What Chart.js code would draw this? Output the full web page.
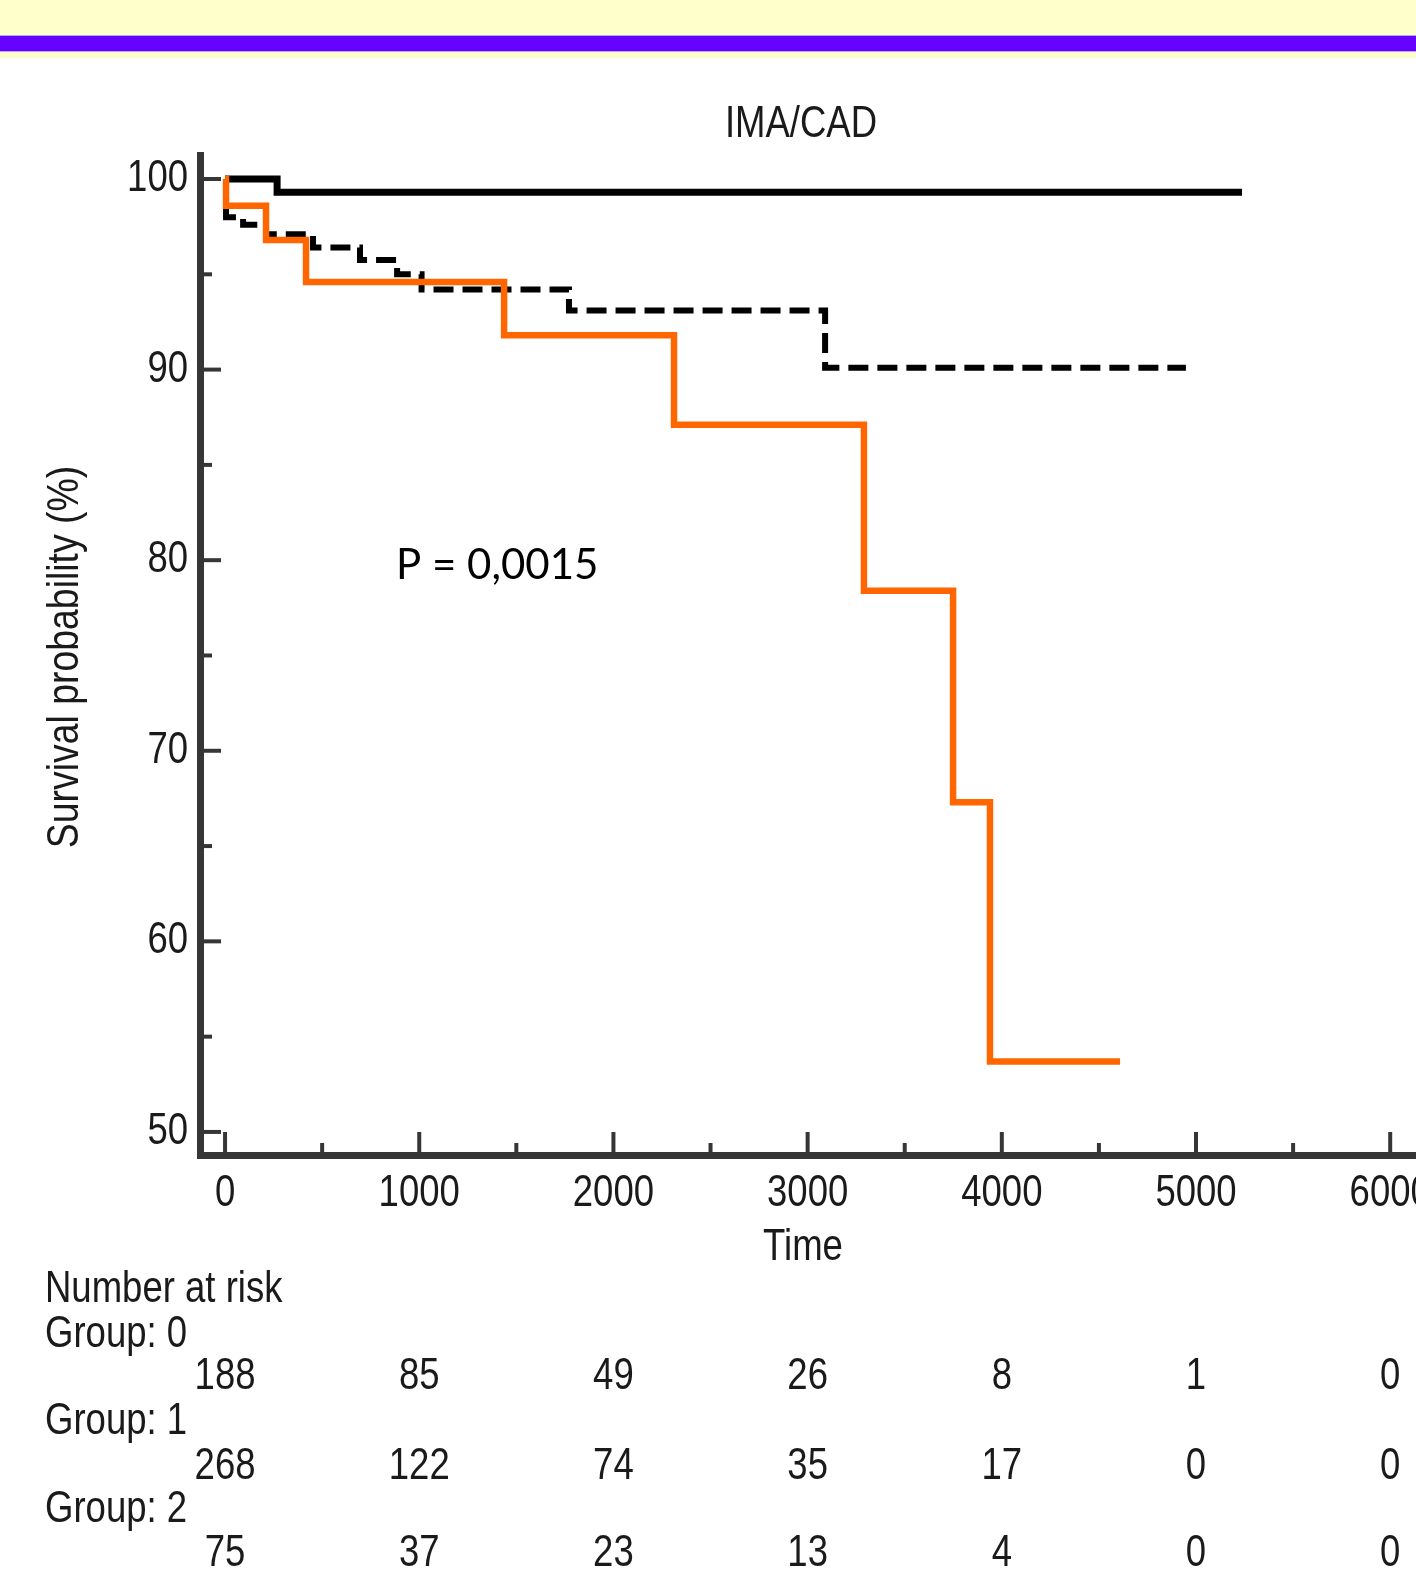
<!DOCTYPE html>
<html><head><meta charset="utf-8">
<script src="https://cdn.jsdelivr.net/npm/chart.js@4/dist/chart.umd.min.js"></script>
<style>
html,body{margin:0;padding:0;background:#fff;width:1416px;height:1573px;overflow:hidden;}
#banner{position:absolute;left:0;top:0;width:1416px;height:58px;background:#FFFFCC;}
#bar{position:absolute;left:0;top:35px;width:1416px;height:17px;background:#6600FF;border-top:1px solid #b8a8e8;border-bottom:1px solid #b8a8e8;box-sizing:border-box;}
#wrap{position:absolute;left:0;top:60px;width:1500px;height:1513px;}
</style></head><body>
<div id="banner"><div id="bar"></div></div>
<div id="wrap"><canvas id="c" width="1500" height="1513"></canvas></div>
<script>
// ---------- data ----------
const chartTitle = 'IMA/CAD';
const xAxisTitle = 'Time';
const yAxisTitle = 'Survival probability (%)';
const pValueText = 'P = 0,0015';

const xTickValues = [0,500,1000,1500,2000,2500,3000,3500,4000,4500,5000,5500,6000,6500];
const yTickValues = [50,55,60,65,70,75,80,85,90,95,100];

// Group 0 (solid black)
const group0Times = [0, 268, 5237];
const group0Surv  = [100, 99.3, 99.3];
// Group 1 (dashed black)
const group1Times = [0, 5, 93, 211, 453, 695, 886, 1012, 1771, 3090, 4948];
const group1Surv  = [100, 98.0, 97.6, 97.1, 96.4, 95.75, 95.0, 94.2, 93.1, 90.1, 90.1];
// Group 2 (orange)
const group2Times = [0, 5, 211, 417, 1437, 2312, 3290, 3749, 3939, 4609];
const group2Surv  = [100, 98.6, 96.8, 94.6, 91.8, 87.1, 78.4, 67.3, 53.7, 53.7];

// Number at risk table
const riskTimes = [0,1000,2000,3000,4000,5000,6000];
const riskHeader = 'Number at risk';
const riskGroupLabels = ['Group: 0','Group: 1','Group: 2'];
const riskGroup0 = [188,85,49,26,8,1,0];
const riskGroup1 = [268,122,74,35,17,0,0];
const riskGroup2 = [75,37,23,13,4,0,0];

// ---------- build ----------
const toPts = (t, s) => t.map((v, i) => ({x: v, y: s[i]}));
const FONT = '"Liberation Sans Narrow", "Arial Narrow", "Liberation Sans", Arial, sans-serif';
const TXT = '#1a1a1a';
const AXIS = '#363636';
const K = 0.83; // horizontal condensing of the narrow sans text

function condensedText(ctx, text, x, y) {
  ctx.save();
  ctx.translate(x, y);
  ctx.scale(K, 1);
  ctx.fillText(text, 0, 0);
  ctx.restore();
}

const extras = {
  id: 'extras',
  beforeDraw(chart) {
    Object.values(chart.scales).forEach(s => {
      if (s._condensed) return;
      const orig = s.drawLabels;
      s.drawLabels = function (area) {
        const ctx = this.ctx;
        const f = CanvasRenderingContext2D.prototype.fillText;
        ctx.fillText = function (t, x, y) {
          this.save(); this.translate(x, y); this.scale(K, 1); f.call(this, t, 0, 0); this.restore();
        };
        try { orig.call(this, area); } finally { delete ctx.fillText; }
      };
      s._condensed = true;
    });
  },
  afterDatasetsDraw(chart) {
    const {ctx, chartArea, scales: {x, y}} = chart;
    ctx.save();
    ctx.strokeStyle = AXIS;
    ctx.lineWidth = 4;
    ctx.lineCap = 'butt';
    x.ticks.forEach(t => {
      const px = x.getPixelForValue(t.value);
      const len = t.value % 1000 === 0 ? 23 : 12;
      ctx.beginPath(); ctx.moveTo(px, chartArea.bottom); ctx.lineTo(px, chartArea.bottom - len); ctx.stroke();
    });
    y.ticks.forEach(t => {
      const py = y.getPixelForValue(t.value);
      const len = t.value % 10 === 0 ? 21 : 12;
      ctx.beginPath(); ctx.moveTo(chartArea.left, py); ctx.lineTo(chartArea.left + len, py); ctx.stroke();
    });
    ctx.restore();
  },
  afterDraw(chart) {
    const {ctx, scales: {x}} = chart;
    ctx.save();
    ctx.fillStyle = TXT;
    ctx.font = '44px ' + FONT;
    ctx.textBaseline = 'middle';
    ctx.textAlign = 'center';
    condensedText(ctx, chartTitle, 801, 65);
    condensedText(ctx, xAxisTitle, 803, 1188);
    // y axis title (rotated; condensed along its length)
    ctx.save();
    ctx.translate(66, 597);
    ctx.rotate(-Math.PI / 2);
    ctx.scale(0.85, 1);
    ctx.fillText(yAxisTitle, 0, 0);
    ctx.restore();
    // p value
    ctx.textAlign = 'left';
    ctx.font = '42px Lato, "Open Sans", sans-serif';
    ctx.fillStyle = '#000';
    ctx.fillText(pValueText, 396, 505);
    // risk table
    ctx.font = '44px ' + FONT;
    ctx.fillStyle = TXT;
    ctx.textAlign = 'left';
    condensedText(ctx, riskHeader, 45, 1230);
    const rows = [riskGroup0, riskGroup1, riskGroup2];
    const labelY = [1275, 1362, 1450];
    const valueY = [1317, 1407, 1494];
    rows.forEach((row, r) => {
      ctx.textAlign = 'left';
      condensedText(ctx, riskGroupLabels[r], 45, labelY[r]);
      ctx.textAlign = 'center';
      row.forEach((v, i) => condensedText(ctx, String(v), x.getPixelForValue(riskTimes[i]), valueY[r]));
    });
    ctx.restore();
  }
};

new Chart(document.getElementById('c'), {
  type: 'line',
  data: {
    datasets: [
      {label: 'Group: 2', data: toPts(group2Times, group2Surv), borderColor: '#FF6600', borderWidth: 6.5, stepped: true, pointRadius: 0, order: 0, borderCapStyle: 'butt', borderJoinStyle: 'miter'},
      {label: 'Group: 0', data: toPts(group0Times, group0Surv), borderColor: '#000', borderWidth: 7, stepped: true, pointRadius: 0, order: 1, borderCapStyle: 'butt', borderJoinStyle: 'miter'},
      {label: 'Group: 1', data: toPts(group1Times, group1Surv), borderColor: '#000', borderWidth: 6, borderDash: [20, 9], stepped: true, pointRadius: 0, order: 2, borderCapStyle: 'butt', borderJoinStyle: 'miter'}
    ]
  },
  options: {
    responsive: false,
    animation: false,
    devicePixelRatio: 1,
    layout: {padding: {left: 70, top: 95, right: 12.7, bottom: 358}},
    plugins: {legend: {display: false}, tooltip: {enabled: false}, title: {display: false}},
    scales: {
      x: {
        type: 'linear', min: -129, max: 6500,
        afterBuildTicks: s => { s.ticks = xTickValues.map(v => ({value: v})); },
        afterFit: s => { s.height = 60; },
        grid: {display: false, drawTicks: false},
        border: {display: true, width: 7, color: AXIS},
        ticks: {autoSkip: false, maxRotation: 0, padding: 12, color: TXT, font: {size: 44, family: FONT},
                callback: v => (v % 1000 === 0 ? String(v) : '')}
      },
      y: {
        type: 'linear', min: 48.79, max: 101.26,
        afterBuildTicks: s => { s.ticks = yTickValues.map(v => ({value: v})); },
        afterFit: s => { s.width = 130; },
        grid: {display: false, drawTicks: false},
        border: {display: true, width: 7, color: AXIS},
        ticks: {autoSkip: false, padding: 12, color: TXT, font: {size: 44, family: FONT},
                callback: v => (v % 10 === 0 ? String(v) : '')}
      }
    }
  },
  plugins: [extras]
});
</script>
</body></html>
